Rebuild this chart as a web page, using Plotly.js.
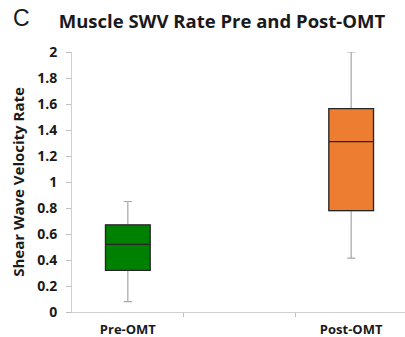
<!DOCTYPE html>
<html><head><meta charset="utf-8">
<script src="https://cdn.plot.ly/plotly-3.0.1.min.js"></script>
<style>html,body{margin:0;padding:0;background:#fff}#chart{width:405px;height:337px}</style>
</head><body><div id="chart"></div>
<script>
const categories = ['Pre-OMT', 'Post-OMT'];
const positions = [0, 2];
const q1 = [0.32, 0.78];
const median = [0.52, 1.31];
const q3 = [0.67, 1.565];
const lowerWhisker = [0.08, 0.415];
const upperWhisker = [0.85, 2.0];
const fillColors = ['#008000', '#ED7D31'];
const yTicks = [0, 0.2, 0.4, 0.6, 0.8, 1, 1.2, 1.4, 1.6, 1.8, 2];

const traces = [];
for (let i = 0; i < categories.length; i++) {
  traces.push({
    type: 'box', x: [positions[i]], q1: [q1[i]], median: [median[i]], q3: [q3[i]],
    lowerfence: [lowerWhisker[i]], upperfence: [upperWhisker[i]],
    width: 0.4, whiskerwidth: 0.18, fillcolor: 'rgba(0,0,0,0)',
    line: {color: '#a6a6a6', width: 1.2}, hoverinfo: 'skip', showlegend: false
  });
}
for (let i = 0; i < categories.length; i++) {
  traces.push({
    type: 'box', x: [positions[i]], q1: [q1[i]], median: [median[i]], q3: [q3[i]],
    lowerfence: [q1[i]], upperfence: [q3[i]],
    width: 0.4, whiskerwidth: 0, fillcolor: fillColors[i],
    line: {color: '#262626', width: 1.3}, name: categories[i], showlegend: false
  });
}

const layout = {
  width: 405, height: 337,
  margin: {l: 72, r: 0, t: 52, b: 25},
  paper_bgcolor: '#fff', plot_bgcolor: '#fff',
  boxmode: 'overlay',
  font: {family: 'Open Sans, sans-serif', color: '#262626'},
  title: {text: '<b>Muscle SWV Rate Pre and Post-OMT</b>', x: 0.548, xanchor: 'center', y: 0.935, yanchor: 'middle',
          font: {size: 18.5, color: '#1a1a1a', family: 'Open Sans, sans-serif'}},
  annotations: [{text: 'C', xref: 'paper', yref: 'paper', x: -0.183, y: 1.13, xanchor: 'left', yanchor: 'middle',
                 showarrow: false, font: {size: 23, color: '#1a1a1a', family: 'Liberation Sans, sans-serif'}}],
  xaxis: {
    range: [-0.5, 2.482], tickvals: positions, ticktext: categories.map(c => '<b>' + c + '</b>'),
    ticks: '', showgrid: false, zeroline: false, showline: true, linecolor: '#d0d0d0', linewidth: 1,
    tickfont: {size: 13, color: '#1a1a1a'}, ticklabelstandoff: 5,
    minor: {tickvals: [0.5, 1.5], ticks: 'outside', ticklen: 4, tickcolor: '#bfbfbf', showgrid: false}
  },
  yaxis: {
    range: [0, 2], tickvals: yTicks, ticktext: yTicks.map(v => '<b>' + v + '</b>'),
    ticks: 'outside', ticklen: 5, tickcolor: '#bfbfbf', showgrid: false, zeroline: false,
    showline: true, linecolor: '#d0d0d0', linewidth: 1,
    tickfont: {size: 14, color: '#1a1a1a'}, ticklabelstandoff: 6,
    title: {text: '<b>Shear Wave Velocity Rate</b>', standoff: 8, font: {size: 15, color: '#1a1a1a'}}
  }
};
Plotly.newPlot('chart', traces, layout, {displayModeBar: false, staticPlot: true});
</script></body></html>
